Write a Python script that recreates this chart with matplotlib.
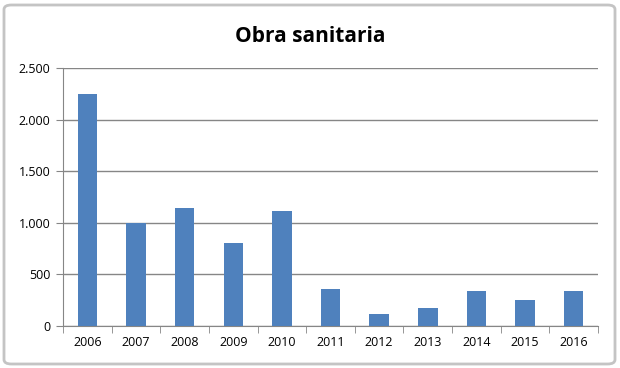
import matplotlib
matplotlib.use("Agg")
import matplotlib.pyplot as plt
from matplotlib.patches import FancyBboxPatch
import numpy as np

years = ["2006", "2007", "2008", "2009", "2010", "2011", "2012", "2013", "2014", "2015", "2016"]
values = [2248, 1000, 1145, 805, 1116, 359, 120, 171, 336, 255, 336]
yticks = [0, 500, 1000, 1500, 2000, 2500]
ytick_labels = ["0", "500", "1.000", "1.500", "2.000", "2.500"]

plt.rcParams['font.family'] = ['Open Sans', 'DejaVu Sans']

W, H = 620, 368
fig = plt.figure(figsize=(W / 100, H / 100), dpi=100)
fig.patch.set_facecolor("white")

# outer frame
frame = FancyBboxPatch((4 / W, 4 / H), (W - 9) / W, (H - 9) / H,
                       boxstyle="round,pad=0,rounding_size=0.012",
                       transform=fig.transFigure, fill=False,
                       edgecolor="#c4c4c4", linewidth=2)
fig.patches.append(frame)

ax = fig.add_axes([63 / W, 1 - 326 / H, (598 - 63) / W, (326 - 68) / H])
x = np.arange(len(years))
ax.bar(x, values, width=0.4, color="#4f81bd", zorder=3)

ax.set_xlim(-0.5, len(years) - 0.5)
ax.set_ylim(0, 2500)
ax.set_yticks(yticks)
ax.set_yticklabels(ytick_labels, fontsize=9)
ax.set_xticks(x)
ax.set_xticklabels(years, fontsize=9)
ax.tick_params(axis='x', length=0, pad=7)
ax.tick_params(axis='y', length=5, color="#868686", pad=4)
ax.set_xticks(np.arange(-0.5, len(years), 1), minor=True)
ax.tick_params(axis='x', which='minor', length=5, color="#868686")

ax.grid(axis='y', color="#868686", linewidth=1, zorder=0)
for s in ["top", "right"]:
    ax.spines[s].set_visible(False)
ax.spines["left"].set_color("#868686")
ax.spines["bottom"].set_color("#868686")

fig.text(0.5, 1 - 36 / H, "Obra sanitaria", ha="center", va="center",
         fontsize=15, fontweight="bold")

fig.savefig("out.png", dpi=100)
